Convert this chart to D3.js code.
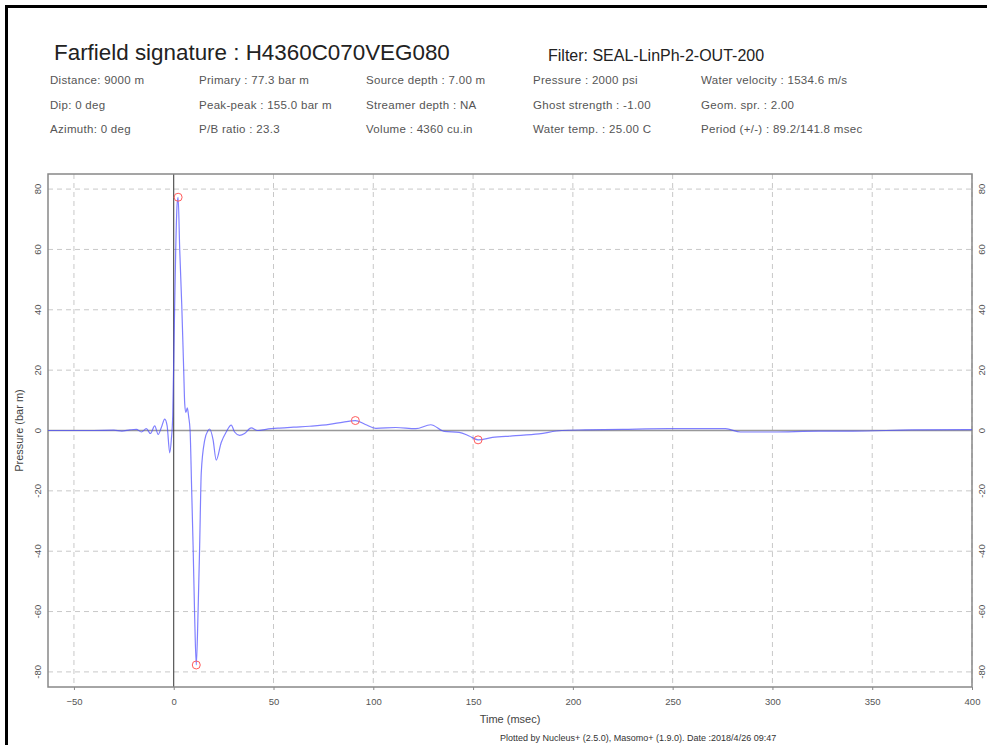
<!DOCTYPE html>
<html>
<head>
<meta charset="utf-8">
<script src="https://cdn.jsdelivr.net/npm/d3@7"></script>
<style>
  body { margin: 0; background: #fff; }
  text { font-family: "Liberation Sans", Arial, Helvetica, sans-serif; }
</style>
</head>
<body>
<div id="chart"></div>
<script>
// farfield signature (time in msec, pressure in bar m)
const timeMs = [-63, -40, -30, -26, -22, -18.7, -16.2, -13.7, -11.7, -9.5, -7.8, -6.2, -4.5, -3.3, -2, -1.2,
  -0.5, 0.3, 1, 1.7, 2.2, 3, 4, 5, 5.5, 6.1, 6.8, 7.5, 8.2, 9, 9.7, 10.5, 11.3, 12.2, 13, 13.8, 15.5, 17.2,
  18, 19.7, 21.3, 23.8, 26.3, 28.8, 30.5, 33, 35.5, 38.8, 42, 46.3, 53, 60, 68, 78, 85, 91, 96, 101.3,
  111.3, 121.3, 128.8, 135.5, 143, 148, 152.5, 159.7, 169.7, 183, 194.5, 206, 225, 248, 276.5, 284,
  300, 323, 340, 370, 398.5, 400];
const pressureBar = [0, 0, 0.1, -0.2, 0.2, 0.4, -0.5, 0.6, -1, 1.5, -1.3, 1, 3.8, 1.5, -7.4, -3,
  5, 35, 60, 75, 77.3, 60, 42, 20, 9, 6, 7.5, 4.5, 0, -20, -38, -62, -77.7, -60, -38, -14, -3.3, 0,
  0.5, -3, -9.8, -4, -0.5, 1.8, -0.5, -1.6, -1, 0.9, 0, 0.4, 0.8, 1.1, 1.4, 2, 2.8, 3.3, 2, 0.7,
  1, 0.6, 1.9, -0.3, -0.6, -1.8, -3.1, -2.3, -1.8, -1.1, 0, 0.2, 0.4, 0.6, 0.6, -0.5,
  -0.5, -0.2, -0.2, 0.2, 0.3, 0.3];

// picked points: primary peak, ghost trough, bubble peak, bubble trough
const markerTime = [2.2, 11.3, 91, 152.5];
const markerPressure = [77.3, -77.7, 3.3, -3.1];

const xTicks = [-50, 0, 50, 100, 150, 200, 250, 300, 350, 400];
const yTicks = [-80, -60, -40, -20, 0, 20, 40, 60, 80];

const titleText = "Farfield signature : H4360C070VEG080";
const filterText = "Filter: SEAL-LinPh-2-OUT-200";
const infoCol1 = ["Distance: 9000 m", "Dip: 0 deg", "Azimuth: 0 deg"];
const infoCol2 = ["Primary : 77.3 bar m", "Peak-peak : 155.0 bar m", "P/B ratio : 23.3"];
const infoCol3 = ["Source depth : 7.00 m", "Streamer depth : NA", "Volume : 4360 cu.in"];
const infoCol4 = ["Pressure : 2000 psi", "Ghost strength : -1.00", "Water temp. : 25.00 C"];
const infoCol5 = ["Water velocity : 1534.6 m/s", "Geom. spr. : 2.00", "Period (+/-) : 89.2/141.8 msec"];
const footerText = "Plotted by Nucleus+ (2.5.0), Masomo+ (1.9.0). Date :2018/4/26 09:47";

const width = 987, height = 745;
const plotL = 48, plotR = 972, plotT = 174, plotB = 687;

const svg = d3.select("#chart").append("svg")
    .attr("width", width)
    .attr("height", height);

// page frame (only left and top edges show)
svg.append("line").attr("x1", 6.5).attr("x2", 6.5).attr("y1", 5).attr("y2", height)
    .attr("stroke", "#000").attr("stroke-width", 3);
svg.append("line").attr("x1", 5).attr("x2", width).attr("y1", 6.5).attr("y2", 6.5)
    .attr("stroke", "#000").attr("stroke-width", 3);

// header
svg.append("text").attr("x", 54).attr("y", 60)
    .attr("font-size", 22.4).attr("fill", "#222").text(titleText);
svg.append("text").attr("x", 548).attr("y", 61)
    .attr("font-size", 16).attr("fill", "#222").text(filterText);

const infoCols = [infoCol1, infoCol2, infoCol3, infoCol4, infoCol5];
const colX = [50, 199, 366, 533, 701];
const rowY = [84, 108.5, 133];
infoCols.forEach((col, c) => {
    col.forEach((s, r) => {
        svg.append("text")
            .attr("x", colX[c]).attr("y", rowY[r])
            .attr("font-size", 11.5).attr("fill", "#555")
            .attr("letter-spacing", 0.3)
            .text(s);
    });
});

const x = d3.scaleLinear().domain([-63, 400]).range([plotL, plotR]);
const y = d3.scaleLinear().domain([-85, 85]).range([plotB, plotT]);

// grid
const grid = svg.append("g");
grid.selectAll(".vgrid").data(xTicks.filter(d => d !== 0))
  .join("line")
    .attr("x1", d => x(d)).attr("x2", d => x(d))
    .attr("y1", plotT).attr("y2", plotB)
    .attr("stroke", "#c8c8c8").attr("stroke-dasharray", "5,4");
grid.selectAll(".hgrid").data(yTicks.filter(d => d !== 0))
  .join("line")
    .attr("x1", plotL).attr("x2", plotR)
    .attr("y1", d => y(d)).attr("y2", d => y(d))
    .attr("stroke", "#c8c8c8").attr("stroke-dasharray", "5,4");

// zero lines
svg.append("line")
    .attr("x1", plotL).attr("x2", plotR).attr("y1", y(0)).attr("y2", y(0))
    .attr("stroke", "#999").attr("stroke-width", 1.5);
svg.append("line")
    .attr("x1", x(0)).attr("x2", x(0)).attr("y1", plotT).attr("y2", plotB)
    .attr("stroke", "#333").attr("stroke-width", 1);

// plot frame
svg.append("rect")
    .attr("x", plotL).attr("y", plotT)
    .attr("width", plotR - plotL).attr("height", plotB - plotT)
    .attr("fill", "none").attr("stroke", "#888").attr("stroke-width", 1.5);

// axes
const xAxis = svg.append("g")
    .attr("transform", `translate(0,${plotB})`)
    .call(d3.axisBottom(x).tickValues(xTicks).tickSize(3).tickPadding(8));
xAxis.select(".domain").remove();
xAxis.selectAll("line").attr("stroke", "#888");
xAxis.selectAll("text").attr("font-size", 9.5).attr("fill", "#555")
    .style("font-family", "'Liberation Sans', Arial, sans-serif");

function yLabels(xPos) {
    svg.append("g").selectAll("text").data(yTicks)
      .join("text")
        .attr("transform", d => `translate(${xPos},${y(d)}) rotate(-90)`)
        .attr("text-anchor", "middle")
        .attr("dy", "0.35em")
        .attr("font-size", 9.5).attr("fill", "#555")
        .text(d => d);
}
yLabels(38);
yLabels(982);

// axis titles
svg.append("text")
    .attr("x", (plotL + plotR) / 2).attr("y", 723)
    .attr("text-anchor", "middle")
    .attr("font-size", 11).attr("fill", "#444")
    .text("Time (msec)");
svg.append("text")
    .attr("transform", `translate(23,${(plotT + plotB) / 2}) rotate(-90)`)
    .attr("text-anchor", "middle")
    .attr("font-size", 11).attr("fill", "#444")
    .text("Pressure (bar m)");

svg.append("text")
    .attr("x", 500).attr("y", 741)
    .attr("font-size", 9).attr("fill", "#333")
    .text(footerText);

// signature
const sig = timeMs.map((t, i) => [t, pressureBar[i]]);
const line = d3.line()
    .x(d => x(d[0]))
    .y(d => y(d[1]))
    .curve(d3.curveMonotoneX);

svg.append("path")
    .datum(sig)
    .attr("d", line)
    .attr("fill", "none")
    .attr("stroke", "#4a4aff")
    .attr("stroke-opacity", 0.7)
    .attr("stroke-width", 1.2);

svg.selectAll(".marker").data(markerTime)
  .join("circle")
    .attr("cx", d => x(d))
    .attr("cy", (d, i) => y(markerPressure[i]))
    .attr("r", 4)
    .attr("fill", "none")
    .attr("stroke", "#ff5c5c")
    .attr("stroke-width", 1);
</script>
</body>
</html>
